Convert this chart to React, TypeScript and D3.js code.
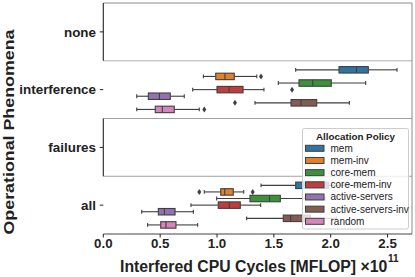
import React from "react";
import * as d3 from "d3";

const categories = ["none", "interference", "failures", "all"];
const policies = ["mem", "mem-inv", "core-mem", "core-mem-inv", "active-servers", "active-servers-inv", "random"];
const colors = ["#3274a1", "#e1812c", "#3a923a", "#c03d3e", "#9372b2", "#845b53", "#d684bd"];
const xTicks = [0, 0.5, 1.0, 1.5, 2.0, 2.5];

// [lower whisker, q1, median, q3, upper whisker] in units of 1e11 MFLOP
const interferenceStats = [
  [1.692, 2.073, 2.227, 2.331, 2.583],
  [0.88, 0.989, 1.07, 1.152, 1.35],
  [1.539, 1.721, 1.842, 2.005, 2.308],
  [0.786, 1.0, 1.106, 1.229, 1.413],
  [0.294, 0.396, 0.493, 0.589, 0.712],
  [1.334, 1.651, 1.739, 1.877, 2.164],
  [0.294, 0.457, 0.519, 0.624, 0.844],
];
const interferenceOutliers = [[], [1.387], [], [1.66], [], [1.158], [0.888]];

const allStats = [
  [1.387, 1.692, 1.83, 1.98, 2.25],
  [0.888, 1.033, 1.068, 1.143, 1.235],
  [0.997, 1.29, 1.462, 1.557, 1.95],
  [0.771, 1.011, 1.108, 1.205, 1.384],
  [0.338, 0.484, 0.537, 0.631, 0.792],
  [1.261, 1.583, 1.648, 1.82, 2.05],
  [0.39, 0.505, 0.551, 0.639, 0.83],
];
const allOutliers = [[], [0.844, 1.314], [], [], [], [], []];

const W = 415;
const H = 277;
const FONT = "'Liberation Sans', Arial, Helvetica, sans-serif";
const GRAY = "#3f3f3f";

export default function App() {
  const x = d3.scaleLinear().domain([0, 2.715]).range([103.3, 412]);
  const y = d3.scaleBand<string>().domain(categories).range([3, 234]);
  const hue = d3
    .scaleBand<string>()
    .domain(policies)
    .range([-0.4 * y.bandwidth(), 0.4 * y.bandwidth()]);
  const boxH = hue.bandwidth() * 0.98;
  const capH = boxH * 0.6;

  const groups = [
    { cat: "interference", stats: interferenceStats, outliers: interferenceOutliers },
    { cat: "all", stats: allStats, outliers: allOutliers },
  ];

  const left = x.range()[0];
  const right = x.range()[1];
  const top = y.range()[0];
  const bottom = y.range()[1];

  const diamond = (cx: number, cy: number) =>
    `M${cx},${cy - 3} L${cx + 2},${cy} L${cx},${cy + 3} L${cx - 2},${cy} Z`;

  const legendX = 302.5;
  const legendY = 128.5;
  const legendW = 106;
  const legendH = 100.5;
  const rowH = 12.17;

  return (
    <svg
      width={W}
      height={H}
      style={{ position: "absolute", left: 0, top: 0, display: "block", background: "#fff" }}
      fontFamily={FONT}
    >
      <rect x={0} y={0} width={W} height={H} fill="#fff" />
      {/* separators */}
      <line x1={left} x2={right} y1={y("interference")!} y2={y("interference")!} stroke="#c8c8c8" strokeWidth={1.3} />
      <line x1={left} x2={right} y1={y("failures")!} y2={y("failures")!} stroke="#a0a0a0" strokeWidth={1.1} />
      <line x1={left} x2={right} y1={y("all")!} y2={y("all")!} stroke="#a0a0a0" strokeWidth={1.1} />

      {/* frame */}
      <line x1={left} x2={right} y1={top} y2={top} stroke="#8a8a8a" strokeWidth={1} />
      <line x1={right} x2={right} y1={top} y2={bottom} stroke="#8a8a8a" strokeWidth={1} />
      <line x1={left} x2={left} y1={top} y2={y("interference")!} stroke="#222" strokeWidth={1.1} />
      <line x1={left} x2={left} y1={y("failures")!} y2={y("all")!} stroke="#222" strokeWidth={1.1} />
      <line x1={left} x2={right} y1={bottom} y2={bottom} stroke="#444" strokeWidth={1.1} />

      {/* boxes */}
      {groups.map((g) =>
        g.stats.map((s, i) => {
          const cy = y(g.cat)! + y.bandwidth() / 2 + hue(policies[i])! + hue.bandwidth() / 2;
          const [lw, q1, med, q3, rw] = s;
          return (
            <g key={g.cat + i}>
              <line x1={x(lw)} x2={x(q1)} y1={cy} y2={cy} stroke={GRAY} strokeWidth={1.1} />
              <line x1={x(q3)} x2={x(rw)} y1={cy} y2={cy} stroke={GRAY} strokeWidth={1.1} />
              <line x1={x(lw)} x2={x(lw)} y1={cy - capH / 2} y2={cy + capH / 2} stroke={GRAY} strokeWidth={1.1} />
              <line x1={x(rw)} x2={x(rw)} y1={cy - capH / 2} y2={cy + capH / 2} stroke={GRAY} strokeWidth={1.1} />
              <rect
                x={x(q1)}
                y={cy - boxH / 2}
                width={x(q3) - x(q1)}
                height={boxH}
                fill={colors[i]}
                stroke={GRAY}
                strokeWidth={1.1}
              />
              <line x1={x(med)} x2={x(med)} y1={cy - boxH / 2} y2={cy + boxH / 2} stroke={GRAY} strokeWidth={1.1} />
              {g.outliers[i].map((o, k) => (
                <path key={k} d={diamond(x(o), cy)} fill={GRAY} />
              ))}
            </g>
          );
        })
      )}

      {/* y axis ticks & labels */}
      {categories.map((c) => {
        const cy = y(c)! + y.bandwidth() / 2;
        return (
          <g key={c}>
            <line x1={left - 3.5} x2={left} y1={cy} y2={cy} stroke="#222" strokeWidth={1} />
            <text x={96} y={cy} dy="0.36em" textAnchor="end" fontSize={13.4} fontWeight="bold" fill="#222">
              {c}
            </text>
          </g>
        );
      })}

      {/* x axis ticks & labels */}
      {xTicks.map((t) => (
        <g key={t}>
          <line x1={x(t)} x2={x(t)} y1={bottom} y2={bottom + 3.5} stroke="#222" strokeWidth={1} />
          <text x={x(t)} y={248.3} textAnchor="middle" fontSize={13.3} fontWeight="bold" fill="#222">
            {d3.format(".1f")(t)}
          </text>
        </g>
      ))}

      {/* axis labels */}
      <text x={120} y={272} fontSize={15.8} fontWeight="bold" fill="#222">
        Interfered CPU Cycles [MFLOP] ×10
      </text>
      <text x={388} y={262} fontSize={10} fontWeight="bold" fill="#222">
        11
      </text>
      <text
        transform={`translate(14,132) rotate(-90)`}
        textAnchor="middle"
        fontSize={14.5}
        fontWeight="bold"
        fill="#222"
        textLength={205}
        lengthAdjust="spacingAndGlyphs"
      >
        Operational Phenomena
      </text>

      {/* legend */}
      <g>
        <rect
          x={legendX}
          y={legendY}
          width={legendW}
          height={legendH}
          rx={2}
          fill="#fff"
          fillOpacity={0.8}
          stroke="#cccccc"
          strokeWidth={1}
        />
        <text x={legendX + legendW / 2} y={legendY + 11} textAnchor="middle" fontSize={9.8} fontWeight="bold" fill="#222">
          Allocation Policy
        </text>
        {policies.map((p, i) => {
          const cy = legendY + 19.8 + i * rowH;
          return (
            <g key={p}>
              <rect x={legendX + 3} y={cy - 3} width={18.5} height={6} fill={colors[i]} stroke={GRAY} strokeWidth={1} />
              <text x={legendX + 28} y={cy} dy="0.35em" fontSize={10} fill="#222">
                {p}
              </text>
            </g>
          );
        })}
      </g>
    </svg>
  );
}
